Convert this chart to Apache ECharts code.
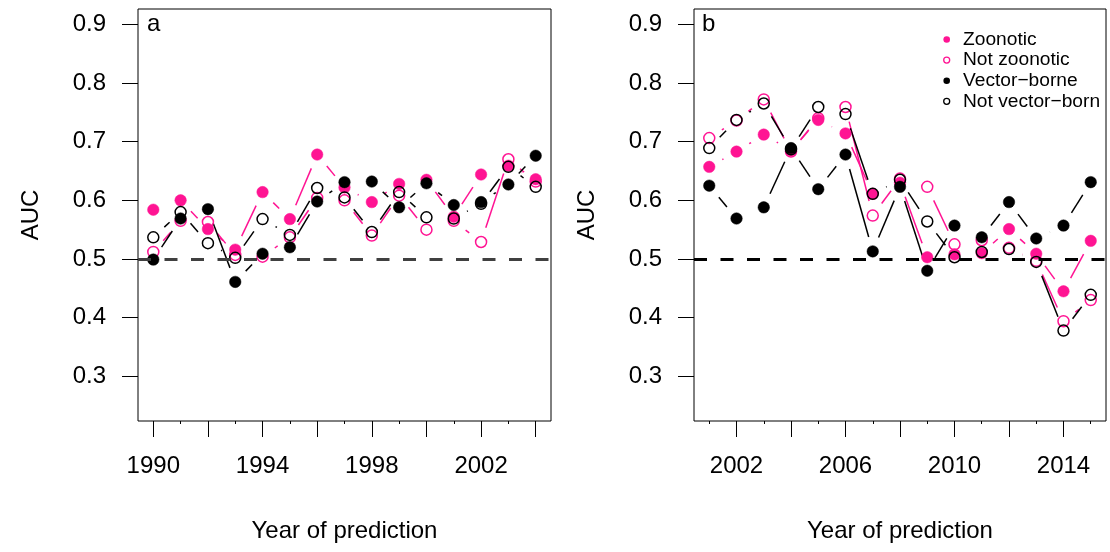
<!DOCTYPE html>
<html>
<head>
<meta charset="utf-8">
<script src="https://cdn.jsdelivr.net/npm/echarts@6/dist/echarts.min.js"></script>
<style>
html,body{margin:0;padding:0;background:#fff;}
#chart{width:1110px;height:552px;}
</style>
</head>
<body>
<div id="chart"></div>
<script>
// ---- data ----
const yearsA = [1990,1991,1992,1993,1994,1995,1996,1997,1998,1999,2000,2001,2002,2003,2004];
const zoonoticA    = [0.584,0.600,0.551,0.516,0.614,0.568,0.678,0.622,0.597,0.628,0.635,0.572,0.644,0.659,0.636];
const notZoonoticA = [0.512,0.565,0.563,0.507,0.504,0.537,0.604,0.600,0.540,0.608,0.550,0.565,0.529,0.670,0.632];
const vectorA      = [0.499,0.569,0.585,0.461,0.509,0.520,0.598,0.631,0.632,0.588,0.629,0.592,0.597,0.627,0.676];
const notVectorA   = [0.537,0.580,0.527,0.502,0.568,0.541,0.621,0.605,0.546,0.614,0.571,0.569,0.594,0.657,0.623];

const yearsB = [2001,2002,2003,2004,2005,2006,2007,2008,2009,2010,2011,2012,2013,2014,2015];
const zoonoticB    = [0.657,0.683,0.712,0.685,0.737,0.714,0.611,0.630,0.503,0.508,0.510,0.551,0.509,0.445,0.531];
const notZoonoticB = [0.706,0.736,0.772,0.683,0.740,0.759,0.574,0.637,0.623,0.525,0.532,0.519,0.497,0.394,0.430];
const vectorB      = [0.625,0.569,0.588,0.689,0.619,0.678,0.513,0.623,0.480,0.557,0.537,0.597,0.535,0.557,0.631];
const notVectorB   = [0.689,0.737,0.765,0.687,0.759,0.747,0.611,0.635,0.564,0.503,0.512,0.517,0.495,0.378,0.439];

const yTicks = [0.3,0.4,0.5,0.6,0.7,0.8,0.9];
const xLabelsA = [1990,1994,1998,2002];
const xMajorA  = [1990,1992,1994,1996,1998,2000,2002,2004];
const xMinorA  = [1991,1993,1995,1997,1999,2001,2003];
const xLabelsB = [2002,2006,2010,2014];
const xMajorB  = [2002,2004,2006,2008,2010,2012,2014];
const xMinorB  = [2001,2003,2005,2007,2009,2011,2013,2015];

const seriesNames = ['Zoonotic','Not zoonotic','Vector\u2212borne','Not vector\u2212borne'];
const panelLabels = ['a','b'];
const refValue = 0.5;

// ---- styles ----
const PINK = '#FF1493';
const BLACK = '#000000';
const FONT = "'Liberation Sans', Arial, Helvetica, sans-serif";
const GAP = 15;

function pairs(xs, ys){ return xs.map((x,i)=>[x, ys[i]]); }
function segs(xs, ys){
  const out=[];
  for(let i=0;i<xs.length-1;i++) out.push([xs[i],ys[i],xs[i+1],ys[i+1]]);
  return out;
}
function lineSeries(axisIdx, xs, ys, color){
  return {
    type:'custom', xAxisIndex:axisIdx, yAxisIndex:axisIdx, silent:true, z:2,
    encode:{x:[0,2], y:[1,3]},
    data: segs(xs, ys),
    renderItem: function(params, api){
      const p0 = api.coord([api.value(0), api.value(1)]);
      const p1 = api.coord([api.value(2), api.value(3)]);
      const dx=p1[0]-p0[0], dy=p1[1]-p0[1];
      const d=Math.hypot(dx,dy);
      if(d<=2*GAP) return null;
      const ux=dx/d, uy=dy/d;
      return {type:'line', shape:{x1:p0[0]+ux*GAP, y1:p0[1]+uy*GAP, x2:p1[0]-ux*GAP, y2:p1[1]-uy*GAP},
              style:{stroke:color, lineWidth:1.5}};
    }
  };
}
function pointSeries(axisIdx, name, xs, ys, color, filled){
  return {
    type:'scatter', name:name, xAxisIndex:axisIdx, yAxisIndex:axisIdx, z:3,
    symbol:'circle', symbolSize: filled ? 11.5 : 11,
    itemStyle: filled ? {color:color, borderColor:color, borderWidth:0.5, opacity:1}
                      : {color:'rgba(0,0,0,0)', borderColor:color, borderWidth:1.5, opacity:1},
    data: pairs(xs, ys)
  };
}
function refLine(axisIdx, color){
  return {
    type:'line', xAxisIndex:axisIdx, yAxisIndex:axisIdx, data:[], silent:true,
    markLine:{silent:true, symbol:'none', label:{show:false},
      lineStyle:{color:color, width:3, type:[13,13.5]},
      data:[{yAxis:refValue}]}
  };
}
function mainX(gridIdx, min, max, major, labels){
  return {
    type:'value', gridIndex:gridIdx, min:min, max:max, position:'bottom', offset:0,
    name:'Year of prediction', nameLocation:'middle', nameGap:98,
    nameTextStyle:{fontSize:24, fontFamily:FONT, color:'#000'},
    axisLine:{show:false}, splitLine:{show:false},
    axisTick:{show:true, customValues:major, length:16, lineStyle:{color:'#000', width:1}},
    axisLabel:{show:true, customValues:labels, margin:33, fontSize:24, fontFamily:FONT, color:'#000',
      formatter:v=>String(Math.round(v))}
  };
}
function minorX(gridIdx, min, max, minor){
  return {
    type:'value', gridIndex:gridIdx, min:min, max:max, position:'bottom', offset:0,
    axisLine:{show:false}, splitLine:{show:false},
    axisTick:{show:true, customValues:minor, length:3, lineStyle:{color:'#000', width:1}},
    axisLabel:{show:false}
  };
}
function yAx(gridIdx){
  return {
    type:'value', gridIndex:gridIdx, min:0.224, max:0.926, position:'left',
    name:'AUC', nameLocation:'middle', nameGap:95, nameRotate:90,
    nameTextStyle:{fontSize:24, fontFamily:FONT, color:'#000'},
    axisLine:{show:false}, splitLine:{show:false},
    axisTick:{show:true, customValues:yTicks, length:16, lineStyle:{color:'#000', width:1}},
    axisLabel:{show:true, customValues:yTicks, margin:32, fontSize:24, fontFamily:FONT, color:'#000',
      formatter:v=>v.toFixed(1)}
  };
}

const legendRows = [
  {name:seriesNames[0], color:PINK, filled:true},
  {name:seriesNames[1], color:PINK, filled:false},
  {name:seriesNames[2], color:BLACK, filled:true},
  {name:seriesNames[3], color:BLACK, filled:false}
];
const graphics = [];
legendRows.forEach((r,i)=>{
  const cy = 39.5 + i*20.6;
  graphics.push({type:'circle', shape:{cx:946.7, cy:cy, r: r.filled?3.3:3},
    style: r.filled ? {fill:r.color} : {fill:'none', stroke:r.color, lineWidth:1.3}, z:10});
  graphics.push({type:'text', x:963, y:cy, z:10,
    style:{text:r.name, fill:'#000', font:'19.2px '+FONT, textVerticalAlign:'middle', verticalAlign:'middle',
      width:142, overflow:'truncate', ellipsis:''}});
});
graphics.push({type:'text', x:147, y:24, z:10, style:{text:panelLabels[0], fill:'#000', font:'24px '+FONT, verticalAlign:'middle'}});
graphics.push({type:'text', x:702, y:24, z:10, style:{text:panelLabels[1], fill:'#000', font:'24px '+FONT, verticalAlign:'middle'}});

const chart = echarts.init(document.getElementById('chart'), null, {renderer:'canvas'});
chart.setOption({
  animation:false,
  backgroundColor:'#fff',
  grid:[
    {left:138, top:9, width:413, height:412, show:true, borderColor:'#000', borderWidth:1, backgroundColor:'transparent'},
    {left:694, top:9, width:412, height:412, show:true, borderColor:'#000', borderWidth:1, backgroundColor:'transparent'}
  ],
  xAxis:[
    mainX(0, 1989.44, 2004.56, xMajorA, xLabelsA),
    mainX(1, 2000.44, 2015.56, xMajorB, xLabelsB),
    minorX(0, 1989.44, 2004.56, xMinorA),
    minorX(1, 2000.44, 2015.56, xMinorB)
  ],
  yAxis:[yAx(0), yAx(1)],
  graphic: graphics,
  series:[
    refLine(0, '#404040'),
    refLine(1, '#000000'),
    lineSeries(0, yearsA, notZoonoticA, PINK),
    lineSeries(0, yearsA, zoonoticA, PINK),
    lineSeries(0, yearsA, vectorA, BLACK),
    lineSeries(0, yearsA, notVectorA, BLACK),
    lineSeries(1, yearsB, notZoonoticB, PINK),
    lineSeries(1, yearsB, zoonoticB, PINK),
    lineSeries(1, yearsB, vectorB, BLACK),
    lineSeries(1, yearsB, notVectorB, BLACK),
    pointSeries(0, seriesNames[1], yearsA, notZoonoticA, PINK, false),
    pointSeries(0, seriesNames[0], yearsA, zoonoticA, PINK, true),
    pointSeries(0, seriesNames[2], yearsA, vectorA, BLACK, true),
    pointSeries(0, seriesNames[3], yearsA, notVectorA, BLACK, false),
    pointSeries(1, seriesNames[1], yearsB, notZoonoticB, PINK, false),
    pointSeries(1, seriesNames[0], yearsB, zoonoticB, PINK, true),
    pointSeries(1, seriesNames[2], yearsB, vectorB, BLACK, true),
    pointSeries(1, seriesNames[3], yearsB, notVectorB, BLACK, false)
  ]
});
</script>
</body>
</html>
